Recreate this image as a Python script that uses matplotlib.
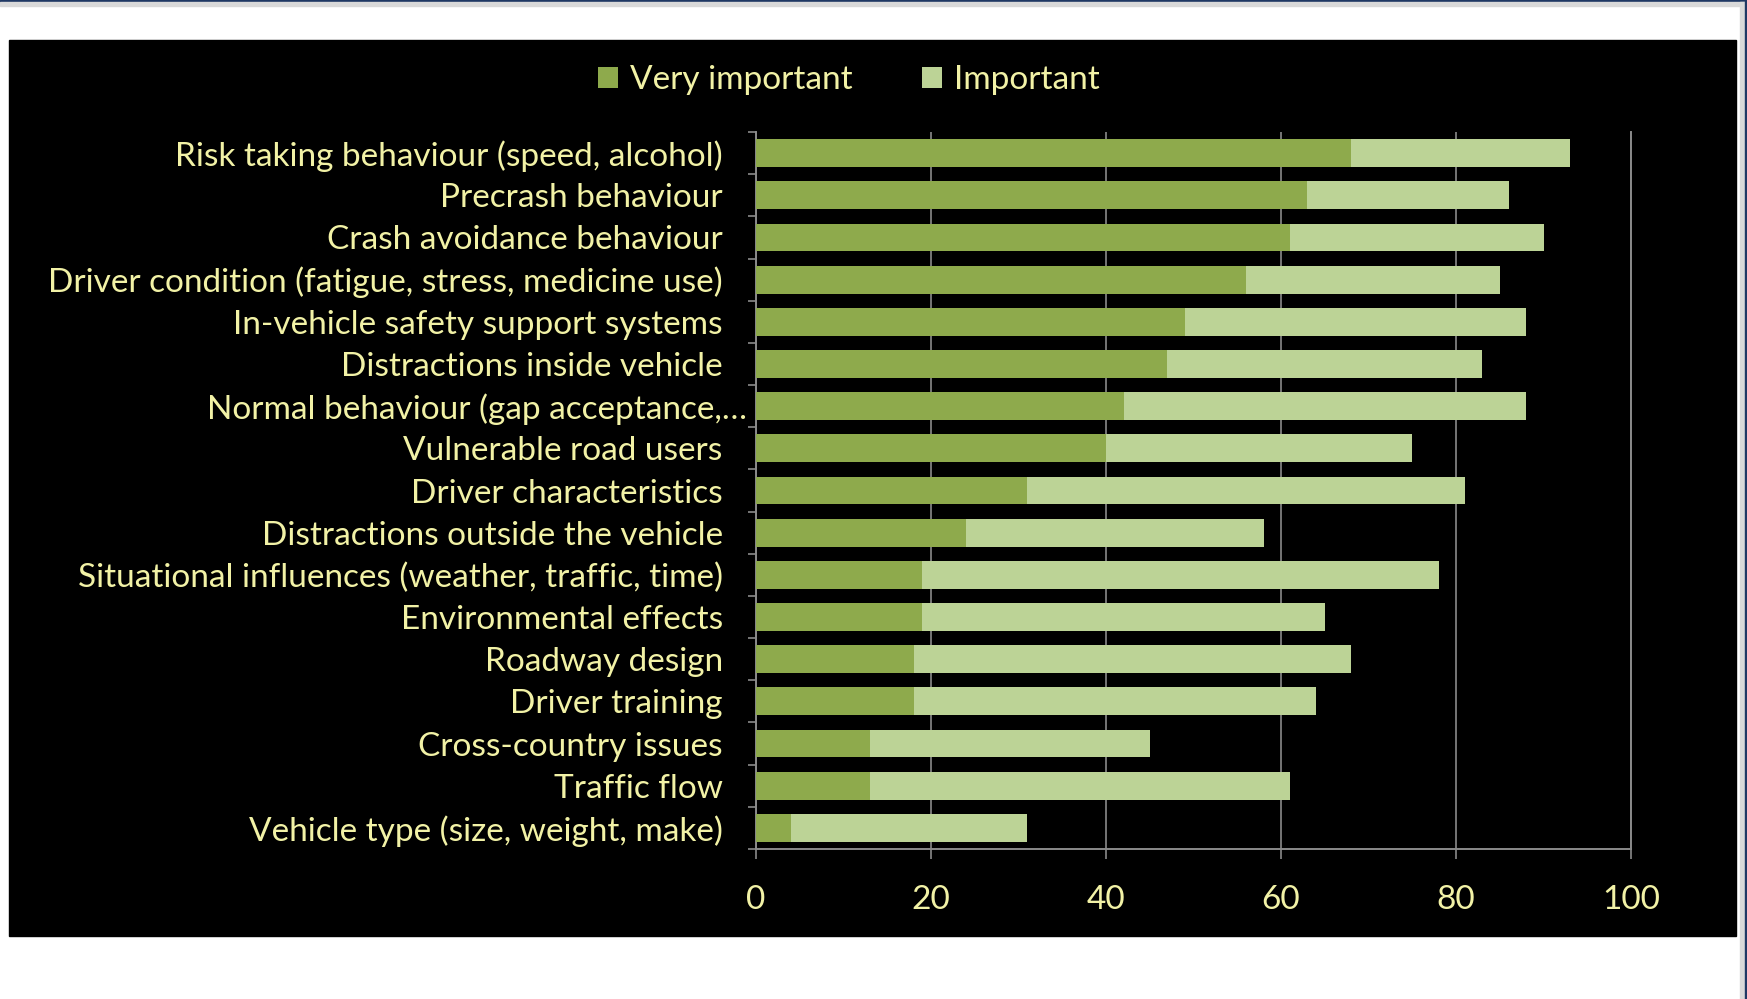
import numpy as np
import matplotlib.pyplot as plt
import matplotlib.transforms as mtransforms
from matplotlib.patches import Rectangle
from matplotlib.ticker import MultipleLocator

categories = [
    "Risk taking behaviour (speed, alcohol)",
    "Precrash behaviour",
    "Crash avoidance behaviour",
    "Driver condition (fatigue, stress, medicine use)",
    "In-vehicle safety support systems",
    "Distractions inside vehicle",
    "Normal behaviour (gap acceptance,…",
    "Vulnerable road users",
    "Driver characteristics",
    "Distractions outside the vehicle",
    "Situational influences (weather, traffic, time)",
    "Environmental effects",
    "Roadway design",
    "Driver training",
    "Cross-country issues",
    "Traffic flow",
    "Vehicle type (size, weight, make)",
]
very_important = [68, 63, 61, 56, 49, 47, 42, 40, 31, 24, 19, 19, 18, 18, 13, 13, 4]
important = [25, 23, 29, 29, 39, 36, 46, 35, 50, 34, 59, 46, 50, 46, 32, 48, 27]

DARK = "#8eaa4c"
LIGHT = "#bcd396"
TXT = "#f2f2a6"
GRID = "#8a8a8a"
FS = 24
FONT = ["Lato", "DejaVu Sans"]

W, H = 1747, 999
fig = plt.figure(figsize=(W / 100, H / 100), dpi=100)
fig.patch.set_facecolor("white")

def px_rect(x0, y0, x1, y1, color):
    # rectangle in pixel coords (y from top)
    fig.patches.append(Rectangle((x0 / W, 1 - y1 / H), (x1 - x0) / W, (y1 - y0) / H,
                                 transform=fig.transFigure, color=color, zorder=-10))

px_rect(0, 0, W, 2, "#1f3864")
px_rect(0, 2, W, 6, "#d9d9d9")
px_rect(1740, 2, 1745, H, "#d9d9d9")
px_rect(1745, 0, W, H, "#1f3864")
px_rect(9, 40, 1736, 936, "black")

ax = fig.add_axes([756 / W, 1 - 849 / H, (1631 - 756) / W, (849 - 132) / H])
ax.set_facecolor("black")

y = np.arange(len(categories))
ax.barh(y, very_important, height=0.66, color=DARK, label="Very important", zorder=3)
ax.barh(y, important, left=very_important, height=0.66, color=LIGHT,
        label="Important", zorder=3)

ax.set_xlim(0, 100)
ax.set_ylim(len(categories) - 0.5, -0.5)
ax.xaxis.set_major_locator(MultipleLocator(20))
ax.grid(True, axis="x", color=GRID, lw=1.2, zorder=1)

ax.set_yticks(y)
ax.set_yticklabels(categories)
ax.set_yticks(np.arange(-0.5, len(categories) + 0.5, 1), minor=True)
ax.tick_params(axis="y", which="major", length=0, pad=24, labelsize=FS, labelcolor=TXT)
ax.tick_params(axis="y", which="minor", length=6, color=GRID, width=1.2)
ax.tick_params(axis="x", length=7, color=GRID, width=1.2, pad=19, labelsize=FS,
               labelcolor=TXT)

for s in ["left", "bottom", "right"]:
    ax.spines[s].set_color(GRID)
    ax.spines[s].set_linewidth(1.4)
ax.spines["top"].set_visible(False)

for lab in ax.get_yticklabels() + ax.get_xticklabels():
    lab.set_family(FONT)

# truncated label runs a bit past the others, like the original
shift = mtransforms.ScaledTranslation(24 / 100, 0, fig.dpi_scale_trans)
trunc = ax.get_yticklabels()[6]
trunc.set_transform(trunc.get_transform() + shift)

leg = fig.legend(loc="center", bbox_to_anchor=(849 / W, 1 - 80 / H), ncol=2,
                 frameon=False, handlelength=0.6, handleheight=0.6,
                 handletextpad=0.35, columnspacing=2.1,
                 prop={"family": FONT, "size": FS})
for t in leg.get_texts():
    t.set_color(TXT)

fig.savefig("out.png", dpi=100, facecolor=fig.get_facecolor())
